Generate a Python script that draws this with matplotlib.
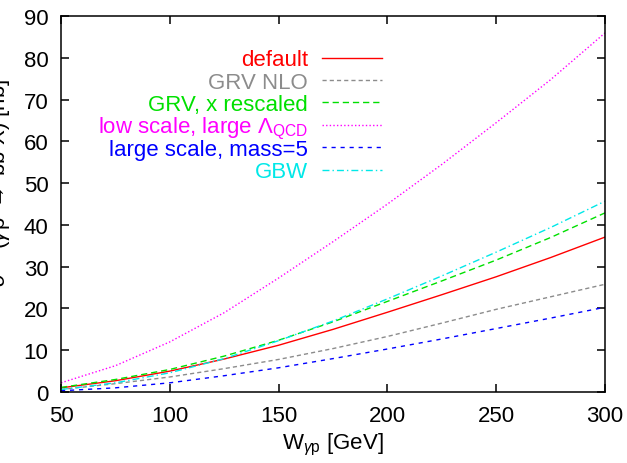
import matplotlib
matplotlib.use("Agg")
import matplotlib.pyplot as plt
import numpy as np

# photon-proton energy grid [GeV]
w_gp = [50, 75, 100, 125, 150, 175, 200, 225, 250, 275, 300]

# cross sections [nb] for the different model settings
sig_default = [1.0, 2.7, 5.0, 7.9, 11.2, 15.0, 19.1, 23.3, 27.6, 32.2, 37.1]
sig_grv_nlo = [0.6, 2.0, 3.6, 5.6, 7.8, 10.4, 13.3, 16.5, 19.8, 22.8, 25.8]
sig_grv_resc = [1.1, 3.0, 5.4, 8.6, 12.4, 16.8, 21.7, 26.6, 31.6, 37.0, 42.9]
sig_low_scale = [2.2, 6.3, 12.0, 19.0, 27.3, 36.0, 45.0, 54.5, 64.5, 74.8, 86.0]
sig_large_scale = [0.3, 1.0, 2.2, 3.9, 5.8, 8.0, 10.3, 12.7, 15.2, 17.7, 20.3]
sig_gbw = [0.6, 2.2, 4.6, 8.0, 12.3, 17.0, 22.3, 27.8, 33.5, 39.4, 45.7]

labels = ["default", "GRV NLO", "GRV, x rescaled",
          r"low scale, large $\Lambda_{\mathrm{QCD}}$",
          "large scale, mass=5", "GBW"]

plt.rcParams['font.family'] = ['Liberation Sans', 'DejaVu Sans']
plt.rcParams['mathtext.fontset'] = 'custom'
plt.rcParams['mathtext.rm'] = 'Liberation Sans'
plt.rcParams['mathtext.it'] = 'Liberation Sans:italic'
plt.rcParams['font.size'] = 16

fig = plt.figure(figsize=(6.27, 4.64), dpi=100)
ax = fig.add_axes([0.0973, 0.153, 0.8677, 0.810])

# (colour, dash pattern) for each curve
styles = [
    ("#ff0000", None),
    ("#8c8c8c", (3.0, 2.2)),
    ("#00e000", (4.5, 2.8)),
    ("#ff00ff", (1.0, 1.6)),
    ("#0000ff", (3.0, 3.5)),
    ("#00e8e8", (5.0, 2.2, 1.0, 2.2)),
]
curves = [sig_default, sig_grv_nlo, sig_grv_resc, sig_low_scale,
          sig_large_scale, sig_gbw]

for ys, (col, dash) in zip(curves, styles):
    ln, = ax.plot(w_gp, ys, color=col, lw=1.0)
    if dash is not None:
        ln.set_dashes(dash)

# key drawn gnuplot style: right-aligned text, sample line to the right
key_top = 0.890
key_step = 0.0596
for i, (lab, (col, dash)) in enumerate(zip(labels, styles)):
    yk = key_top - i * key_step
    ax.text(0.454, yk - 0.0205, lab, color=col, ha='right', va='baseline',
            transform=ax.transAxes)
    ln, = ax.plot([0.480, 0.590], [yk, yk], color=col, lw=1.0,
                  transform=ax.transAxes)
    if dash is not None:
        ln.set_dashes(dash)

ax.set_xlim(50, 300)
ax.set_ylim(0, 90)
ax.set_xticks(np.arange(50, 301, 50))
ax.set_yticks(np.arange(0, 91, 10))
ax.tick_params(direction='in', length=6, width=1.1, top=True, right=True)
ax.tick_params(axis='y', pad=9)
ax.tick_params(axis='x', pad=9)
for sp in ax.spines.values():
    sp.set_linewidth(1.1)

ax.set_xlabel(r"W$_{\gamma\mathrm{p}}$ [GeV]")
ax.set_ylabel(r"$\sigma^{\mathrm{b\bar{b}}}$ ($\gamma$p $\rightarrow$ b$\bar{\mathrm{b}}$ X) [nb]")
ax.yaxis.set_label_coords(-0.088, 0.56)

fig.savefig("out.png", dpi=100)
